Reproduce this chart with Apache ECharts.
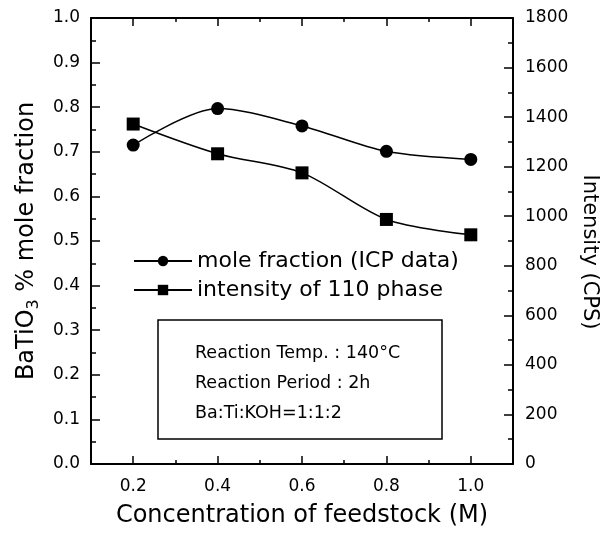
<!DOCTYPE html>
<html>
<head>
<meta charset="utf-8">
<script src="https://cdn.jsdelivr.net/npm/echarts@6/dist/echarts.min.js"></script>
<style>
  html, body { margin: 0; padding: 0; background: #fff; }
  #chart { width: 609px; height: 538px; }
</style>
</head>
<body>
<div id="chart"></div>
<script>
// Feedstock concentration (M) and the two measured quantities
const concentration = [0.2, 0.4, 0.6, 0.8, 1.0];
const moleFraction = [0.715, 0.797, 0.758, 0.701, 0.683];
const intensity = [1372, 1252, 1175, 987, 925];

const seriesNames = ['mole fraction (ICP data)', 'intensity of 110 phase'];
const xMajorTicks = [0.2, 0.4, 0.6, 0.8, 1.0];
const xMinorTicks = [0.3, 0.5, 0.7, 0.9];
const noteLines = ['Reaction Temp. : 140°C', 'Reaction Period : 2h', 'Ba:Ti:KOH=1:1:2'];

const FONT = 'DejaVu Sans';
const INK = '#000';
const TICK_FONT = 17;

const chart = echarts.init(document.getElementById('chart'), null, { renderer: 'canvas' });

function xAxisLayer(position, tickValues, tickLength, withLine, withLabels) {
  return {
    type: 'value',
    position: position,
    min: 0.1,
    max: 1.1,
    interval: 0.1,
    splitLine: { show: false },
    axisLine: { show: withLine, lineStyle: { color: INK, width: 2 } },
    axisTick: {
      show: true, inside: true, length: tickLength,
      customValues: tickValues,
      lineStyle: { color: INK, width: 1.5 }
    },
    axisLabel: withLabels ? {
      show: true,
      customValues: xMajorTicks,
      formatter: v => v.toFixed(1),
      color: INK, fontFamily: FONT, fontSize: TICK_FONT, margin: 14
    } : { show: false }
  };
}

const xBottom = xAxisLayer('bottom', xMajorTicks, 8, true, true);
xBottom.name = 'Concentration of feedstock (M)';
xBottom.nameLocation = 'middle';
xBottom.nameGap = 40;
xBottom.nameTextStyle = { color: INK, fontFamily: FONT, fontSize: 24 };

const option = {
  backgroundColor: '#fff',
  animation: false,
  grid: { left: 91, right: 96, top: 18, bottom: 74 },
  xAxis: [
    xBottom,
    xAxisLayer('bottom', xMinorTicks, 4, false, false),
    xAxisLayer('top', xMajorTicks, 8, true, false),
    xAxisLayer('top', xMinorTicks, 4, false, false)
  ],
  yAxis: [
    {
      type: 'value', position: 'left',
      min: 0, max: 1, interval: 0.1,
      splitLine: { show: false },
      axisLine: { show: true, lineStyle: { color: INK, width: 2 } },
      axisTick: { show: true, inside: true, length: 9, lineStyle: { color: INK, width: 1.5 } },
      minorTick: { show: true, splitNumber: 2, length: 5, lineStyle: { color: INK, width: 1.5 } },
      axisLabel: { formatter: v => v.toFixed(1), color: INK, fontFamily: FONT, fontSize: TICK_FONT, margin: 11 },
      name: '{n|BaTiO}{s|3}{n| % mole fraction}',
      nameLocation: 'middle',
      nameRotate: 90,
      nameGap: 46,
      nameTextStyle: {
        color: INK, fontFamily: FONT,
        rich: {
          n: { fontSize: 24, lineHeight: 30, color: INK, fontFamily: FONT },
          s: { fontSize: 16, lineHeight: 30, verticalAlign: 'bottom', color: INK, fontFamily: FONT }
        }
      }
    },
    {
      type: 'value', position: 'right',
      min: 0, max: 1800, interval: 200,
      splitLine: { show: false },
      axisLine: { show: true, lineStyle: { color: INK, width: 2 } },
      axisTick: { show: true, inside: true, length: 9, lineStyle: { color: INK, width: 1.5 } },
      minorTick: { show: true, splitNumber: 2, length: 5, lineStyle: { color: INK, width: 1.5 } },
      axisLabel: { formatter: v => String(v), color: INK, fontFamily: FONT, fontSize: TICK_FONT, margin: 12 },
      name: 'Intensity (CPS)',
      nameLocation: 'middle',
      nameRotate: -90,
      nameGap: 64,
      nameTextStyle: { color: INK, fontFamily: FONT, fontSize: 21, padding: [0, 0, 0, 22] }
    }
  ],
  legend: {
    data: seriesNames,
    orient: 'vertical',
    left: 128,
    top: 245,
    itemWidth: 58,
    itemHeight: 13,
    itemGap: 7,
    textStyle: { color: INK, fontFamily: FONT, fontSize: 22 }
  },
  graphic: [
    {
      type: 'rect',
      shape: { x: 158, y: 320, width: 284, height: 119 },
      style: { fill: '#fff', stroke: INK, lineWidth: 1.5 },
      z: 10
    },
    ...noteLines.map((line, i) => ({
      type: 'text',
      x: 195,
      y: 353 + i * 30,
      style: {
        text: line, fill: INK, fontFamily: FONT, fontSize: 17.5,
        verticalAlign: 'middle'
      },
      z: 11
    }))
  ],
  series: [
    {
      name: seriesNames[0],
      type: 'line',
      xAxisIndex: 0,
      yAxisIndex: 0,
      smooth: 0.3,
      symbol: 'circle',
      symbolSize: 13,
      itemStyle: { color: INK },
      lineStyle: { color: INK, width: 1.5 },
      data: concentration.map((c, i) => [c, moleFraction[i]])
    },
    {
      name: seriesNames[1],
      type: 'line',
      xAxisIndex: 0,
      yAxisIndex: 1,
      smooth: 0.3,
      symbol: 'rect',
      symbolSize: 13,
      itemStyle: { color: INK },
      lineStyle: { color: INK, width: 1.5 },
      data: concentration.map((c, i) => [c, intensity[i]])
    }
  ]
};

chart.setOption(option);
</script>
</body>
</html>
